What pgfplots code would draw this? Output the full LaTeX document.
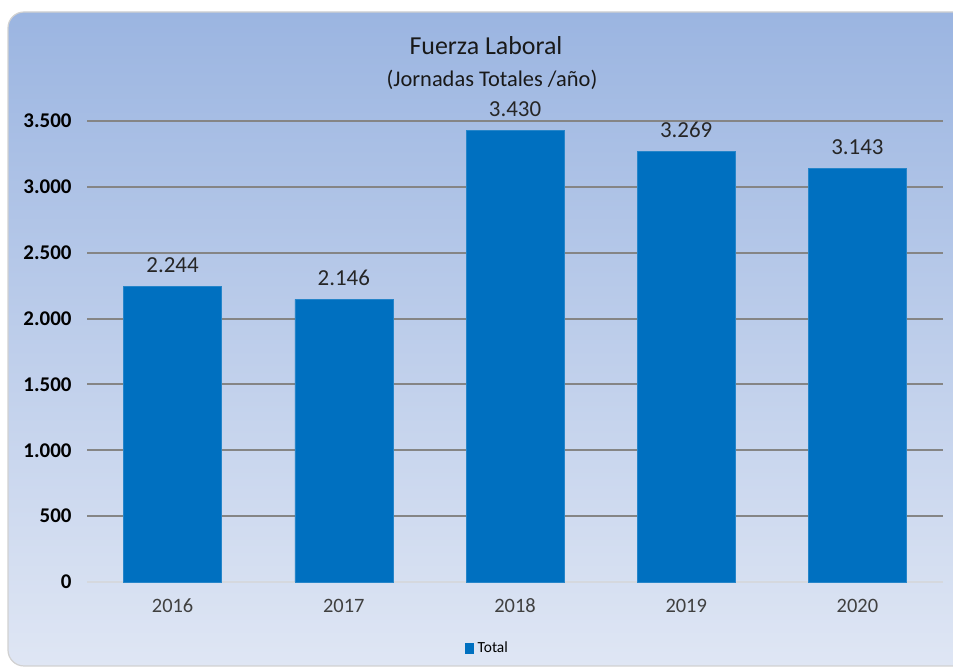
\documentclass[border=0pt]{standalone}
\usepackage{pgfplots}
\pgfplotsset{compat=1.18}
\usepackage{fontspec}
\setmainfont{Carlito}
\definecolor{barblue}{HTML}{0070C0}
\definecolor{bgtop}{HTML}{9BB5E1}
\definecolor{bgbot}{HTML}{DFE6F4}
\definecolor{gridgray}{HTML}{858585}
\definecolor{zerogray}{HTML}{D5D8DE}
\definecolor{ticktext}{HTML}{404040}
\begin{document}
\begin{tikzpicture}[x=1bp,y=1bp]
\path[use as bounding box] (0,0) rectangle (953,671);
\fill[white] (0,0) rectangle (953,671);
\shade[top color=bgtop, bottom color=bgbot, draw=black!18, line width=1.2bp, rounded corners=16bp]
  (8,5) rectangle (975,659);
\node[font=\fontsize{26}{30}\selectfont, text=black!90] at (486,625) {Fuerza Laboral};
\node[font=\fontsize{22.5}{26}\selectfont, text=black!90] at (492,591) {(Jornadas Totales /año)};
\begin{axis}[
  at={(87bp,89bp)}, anchor=south west,
  scale only axis, width=856bp, height=461bp,
  xmin=-0.5, xmax=4.5, ymin=0, ymax=3500,
  ybar, bar width=98bp,
  xtick=data, xticklabels={2016,2017,2018,2019,2020},
  ytick={500,1000,...,3500},
  extra y ticks={0},
  extra y tick style={grid style={draw=zerogray, line width=2bp}},
  ymajorgrids,
  grid style={draw=gridgray, line width=2bp},
  axis line style={draw=none},
  major tick length=0pt,
  clip=false,
  /pgf/number format/.cd, 1000 sep={.}, assume math mode=true,
  /pgfplots/.cd,
  yticklabel style={font=\fontsize{21}{24}\selectfont\bfseries, text=black, xshift=-12bp},
  xticklabel style={font=\fontsize{20.5}{24}\selectfont, text=ticktext, text height=14bp, text depth=0pt, yshift=-13bp},
  nodes near coords,
  nodes near coords style={font=\fontsize{23}{26}\selectfont, text=black!85, yshift=10bp,
    /pgf/number format/.cd, 1000 sep={.}, assume math mode=true},
  legend style={at={(0.468,-0.143)}, anchor=center, draw=none, fill=none,
    font=\fontsize{15.5}{18}\selectfont, inner sep=0pt},
  legend image code/.code={\fill[barblue] (0bp,-5bp) rectangle (8bp,5bp);},
  legend cell align=left,
]
\addplot[fill=barblue, draw=barblue!85!white] coordinates {(0,2244) (1,2146) (2,3430) (3,3269) (4,3143)};
\addlegendentry{\hspace{2bp}Total}
\end{axis}
\end{tikzpicture}
\end{document}
